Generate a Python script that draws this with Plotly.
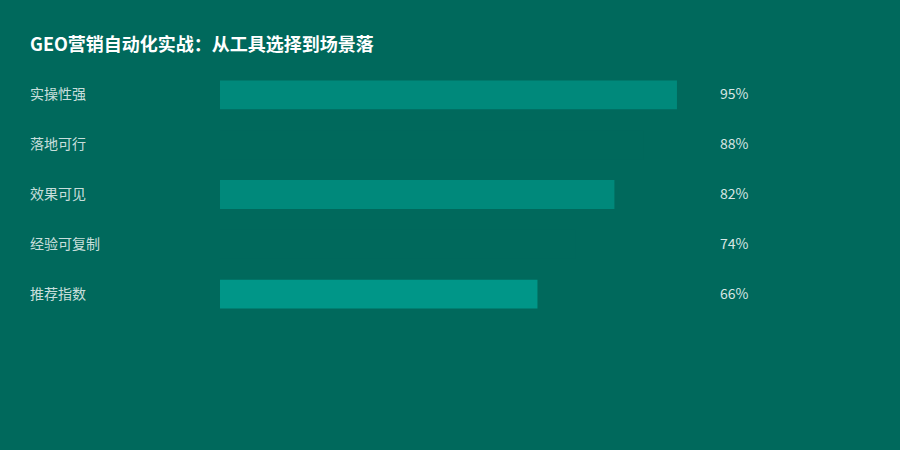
import plotly.graph_objects as go

categories = ["实操性强", "落地可行", "效果可见", "经验可复制", "推荐指数"]
values = [95, 88, 82, 74, 66]
bar_colors = ["#00897B", "#00695C", "#00897B", "#00695C", "#009688"]
value_labels = ["95%", "88%", "82%", "74%", "66%"]

bg = "#00695C"
font_name = "Noto Sans CJK SC"

fig = go.Figure()
fig.add_trace(go.Bar(
    x=values,
    y=categories,
    orientation="h",
    width=0.58,
    marker=dict(color=bar_colors, line=dict(width=0)),
    hoverinfo="skip",
))

# left labels and right percentages
for cat, lab in zip(categories, value_labels):
    fig.add_annotation(x=(28 - 220) / 481, y=cat, xref="paper", yref="y",
                       text=cat, showarrow=False, xanchor="left", yshift=1.5,
                       font=dict(size=14, color="rgba(255,255,255,0.8)", family=font_name))
    fig.add_annotation(x=(718 - 220) / 481, y=cat, xref="paper", yref="y",
                       text=lab, showarrow=False, xanchor="left", yshift=1.5,
                       font=dict(size=14, color="rgba(255,255,255,0.85)", family=font_name))

fig.update_layout(
    width=900, height=450,
    paper_bgcolor=bg, plot_bgcolor=bg,
    margin=dict(l=220, r=199, t=69.5, b=130.5),
    showlegend=False,
    title=dict(text="<b>GEO营销自动化实战：从工具选择到场景落</b>",
               x=30 / 900, xanchor="left", xref="container",
               y=1 - 45 / 450, yanchor="middle", yref="container",
               font=dict(size=18, color="white", family=font_name)),
    xaxis=dict(range=[0, 100], visible=False, fixedrange=True),
    yaxis=dict(autorange="reversed", visible=False, fixedrange=True),
)

fig.write_html("out.html", config={"displayModeBar": False},
               post_script="document.body.style.margin='0';")
